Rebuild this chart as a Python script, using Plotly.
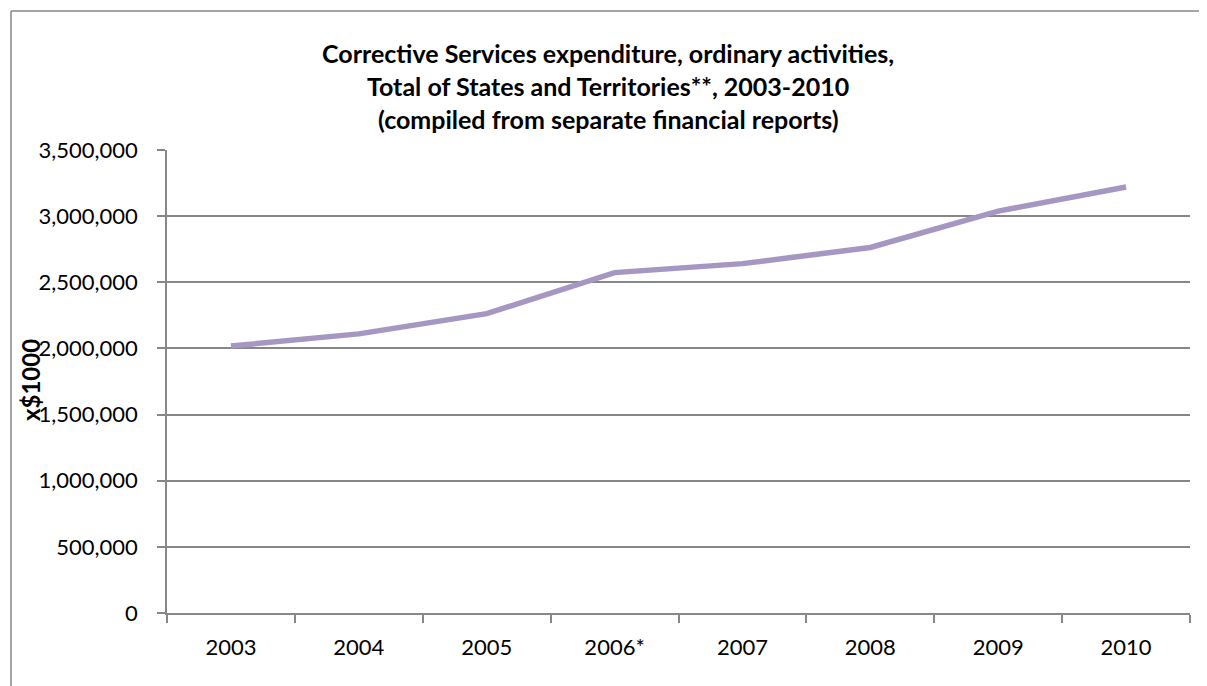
import plotly.graph_objects as go

years = ["2003", "2004", "2005", "2006*", "2007", "2008", "2009", "2010"]
expenditure = [2018000, 2110000, 2263000, 2573000, 2641000, 2763000, 3038000, 3220000]
y_ticks = [0, 500000, 1000000, 1500000, 2000000, 2500000, 3000000, 3500000]
title_lines = [
    "Corrective Services expenditure, ordinary activities,",
    "Total of States and Territories**, 2003-2010",
    "(compiled from separate financial reports)",
]
y_title = "x$1000"

OFF = 8  # default page body margin
W, H = 1199, 678
ML, MT = 159, 142
PW, PH = 1023, 463
MR = W - ML - PW
MB = H - MT - PH


def px_to_paper_x(px):
    return (px - OFF - ML) / PW


def px_to_paper_y(py):
    return (MT + PH - (py - OFF)) / PH


GRAY = "#878787"
FONT = "Lato"

fig = go.Figure()
fig.add_trace(go.Scatter(
    x=years, y=expenditure, mode="lines",
    line=dict(color="#A597C1", width=5.5),
    showlegend=False, hoverinfo="x+y",
))

annotations = []
for line, py in zip(title_lines, [53, 86, 119]):
    annotations.append(dict(
        text="<b>" + line + "</b>", xref="paper", yref="paper",
        x=px_to_paper_x(608), y=px_to_paper_y(py), xanchor="center", yanchor="middle",
        showarrow=False, font=dict(family=FONT, size=25, color="#000000"),
    ))
annotations.append(dict(
    text="<b>" + y_title + "</b>", xref="paper", yref="paper",
    x=px_to_paper_x(30), y=px_to_paper_y(380), xanchor="center", yanchor="middle",
    textangle=-90, showarrow=False, font=dict(family=FONT, size=24, color="#000000"),
))

frame_top = px_to_paper_y(11)
frame_left = px_to_paper_x(11)
frame_right = px_to_paper_x(1207)
frame_bottom = px_to_paper_y(686)
fig.update_layout(
    width=W, height=H,
    margin=dict(l=ML, r=MR, t=MT, b=MB, autoexpand=False),
    paper_bgcolor="white", plot_bgcolor="white",
    font=dict(family=FONT, size=22, color="#000000"),
    annotations=annotations,
    shapes=[
        dict(type="line", xref="paper", yref="paper", layer="below",
             x0=frame_left, x1=frame_right, y0=frame_top, y1=frame_top,
             line=dict(color=GRAY, width=1.5)),
        dict(type="line", xref="paper", yref="paper", layer="below",
             x0=frame_left, x1=frame_left, y0=frame_top, y1=frame_bottom,
             line=dict(color=GRAY, width=1.5)),
    ],
    xaxis=dict(
        type="category", categoryorder="array", categoryarray=years,
        range=[-0.5, len(years) - 0.5],
        showgrid=False, showline=True, linecolor=GRAY, linewidth=1.5,
        ticks="outside", tickson="boundaries", ticklen=8, tickcolor=GRAY, tickwidth=1.5,
        ticklabelstandoff=14, tickfont=dict(family=FONT, size=22),
        zeroline=False,
    ),
    yaxis=dict(
        range=[0, 3500000], tickvals=y_ticks,
        ticktext=[f"{v:,}" for v in y_ticks],
        showgrid=True, gridcolor=GRAY, gridwidth=1.5,
        showline=True, linecolor=GRAY, linewidth=1.5,
        ticks="outside", ticklen=8, tickcolor=GRAY, tickwidth=1.5,
        ticklabelstandoff=15, tickfont=dict(family=FONT, size=22),
        zeroline=False,
    ),
)

fig.write_html("out.html")
